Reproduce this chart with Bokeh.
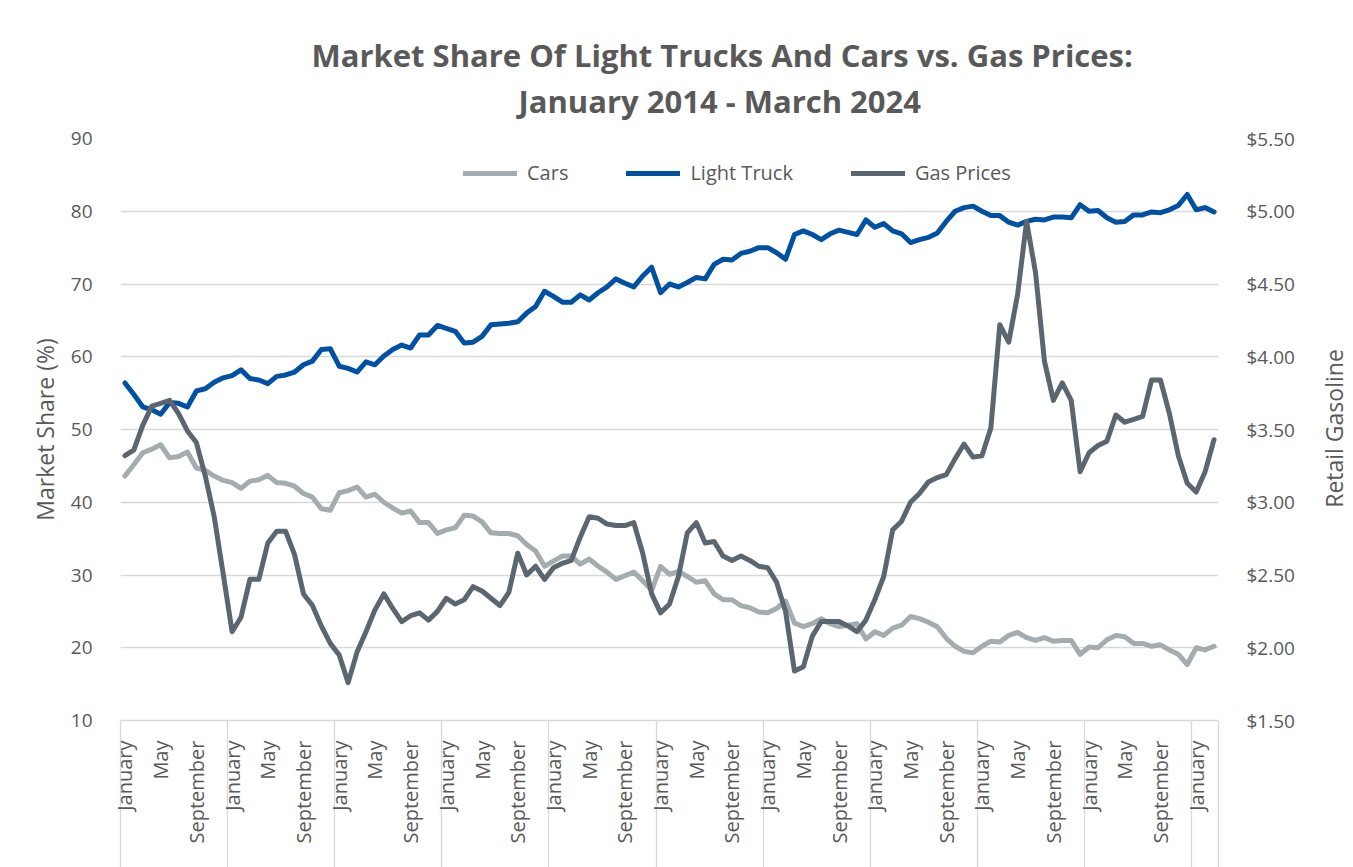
import math
from bokeh.plotting import figure
from bokeh.layouts import row
from bokeh.models import (Range1d, LinearAxis, FixedTicker, NumeralTickFormatter,
                          Legend, LegendItem, Title, Label)
from bokeh.embed import file_html
from bokeh.resources import INLINE

# ---------------- data ----------------
YEARS = list(range(2014, 2025))
MONTHS = ["January", "February", "March", "April", "May", "June", "July",
          "August", "September", "October", "November", "December"]
LABELED_MONTHS = ["January", "May", "September"]

truck = [56.4, 54.8, 53.1, 52.7, 52.1, 53.7, 53.6, 53.1, 55.3, 55.6,
         56.5, 57.1, 57.4, 58.2, 57.0, 56.8, 56.3, 57.3, 57.5, 57.9,
         58.9, 59.4, 61.0, 61.1, 58.7, 58.4, 57.9, 59.3, 58.9, 60.1,
         61.0, 61.6, 61.2, 63.0, 63.0, 64.3, 63.9, 63.5, 61.9, 62.0,
         62.8, 64.4, 64.5, 64.6, 64.8, 66.0, 66.9, 69.0, 68.3, 67.5,
         67.5, 68.5, 67.8, 68.8, 69.6, 70.7, 70.1, 69.6, 71.1, 72.3,
         68.8, 70.0, 69.6, 70.2, 70.9, 70.7, 72.7, 73.4, 73.3, 74.2,
         74.5, 75.0, 75.0, 74.3, 73.4, 76.8, 77.3, 76.8, 76.1, 76.9,
         77.4, 77.1, 76.8, 78.8, 77.8, 78.3, 77.3, 76.9, 75.7, 76.1,
         76.4, 77.0, 78.6, 80.0, 80.5, 80.7, 80.0, 79.4, 79.4, 78.5,
         78.1, 78.6, 78.9, 78.8, 79.2, 79.2, 79.1, 80.9, 80.0, 80.1,
         79.1, 78.5, 78.6, 79.5, 79.5, 79.9, 79.8, 80.2, 80.8, 82.3,
         80.2, 80.5, 79.9]

cars = [43.6, 45.2, 46.8, 47.3, 47.9, 46.1, 46.3, 46.9, 44.7, 44.4,
        43.6, 43.0, 42.7, 41.9, 42.9, 43.1, 43.7, 42.7, 42.6, 42.2,
        41.2, 40.7, 39.1, 38.9, 41.3, 41.6, 42.1, 40.7, 41.1, 40.0,
        39.2, 38.5, 38.8, 37.2, 37.2, 35.7, 36.2, 36.5, 38.2, 38.1,
        37.3, 35.8, 35.7, 35.7, 35.4, 34.2, 33.3, 31.2, 31.9, 32.6,
        32.6, 31.5, 32.2, 31.2, 30.4, 29.4, 29.9, 30.4, 29.2, 27.9,
        31.2, 30.1, 30.5, 29.8, 29.0, 29.2, 27.4, 26.6, 26.6, 25.8,
        25.5, 24.9, 24.8, 25.4, 26.4, 23.4, 22.9, 23.3, 24.0, 23.3,
        22.9, 23.1, 23.3, 21.2, 22.2, 21.7, 22.7, 23.1, 24.3, 24.0,
        23.5, 22.9, 21.3, 20.2, 19.5, 19.3, 20.2, 20.9, 20.8, 21.7,
        22.1, 21.4, 21.0, 21.4, 20.9, 21.0, 21.0, 19.1, 20.1, 20.0,
        21.1, 21.7, 21.5, 20.6, 20.6, 20.2, 20.4, 19.7, 19.1, 17.7,
        20.0, 19.7, 20.2]

gas = [3.32, 3.36, 3.53, 3.66, 3.68, 3.70, 3.61, 3.49, 3.41, 3.18,
       2.90, 2.51, 2.11, 2.21, 2.47, 2.47, 2.72, 2.80, 2.80, 2.64,
       2.37, 2.29, 2.15, 2.03, 1.95, 1.76, 1.97, 2.11, 2.26, 2.37,
       2.27, 2.18, 2.22, 2.24, 2.19, 2.25, 2.34, 2.30, 2.33, 2.42,
       2.39, 2.34, 2.29, 2.38, 2.65, 2.50, 2.56, 2.47, 2.55, 2.58,
       2.60, 2.76, 2.90, 2.89, 2.85, 2.84, 2.84, 2.86, 2.65, 2.37,
       2.24, 2.30, 2.49, 2.79, 2.86, 2.72, 2.73, 2.63, 2.60, 2.63,
       2.60, 2.56, 2.55, 2.45, 2.25, 1.84, 1.87, 2.08, 2.18, 2.18,
       2.18, 2.15, 2.11, 2.19, 2.33, 2.49, 2.81, 2.87, 3.00, 3.06,
       3.14, 3.17, 3.19, 3.30, 3.40, 3.31, 3.32, 3.51, 4.22, 4.10,
       4.43, 4.93, 4.58, 3.97, 3.70, 3.82, 3.70, 3.21, 3.34, 3.39,
       3.42, 3.60, 3.55, 3.57, 3.59, 3.84, 3.84, 3.61, 3.32, 3.13,
       3.07, 3.21, 3.43]

left_ticks = [10, 20, 30, 40, 50, 60, 70, 80, 90]
right_ticks = [1.5, 2.0, 2.5, 3.0, 3.5, 4.0, 4.5, 5.0, 5.5]

TITLE_1 = "Market Share Of Light Trucks And Cars vs. Gas Prices:"
TITLE_2 = "January 2014 - March 2024"
LEFT_TITLE = "Market Share (%)"
RIGHT_TITLE = "Retail Gasoline"

# month names for every point (Jan 2014 .. Mar 2024)
month_names = [m for y in YEARS for m in MONTHS][:len(truck)]
x = list(range(len(month_names)))
label_idx = [i for i, m in enumerate(month_names) if m in LABELED_MONTHS]
year_bounds = [i - 0.5 for i, m in enumerate(month_names) if m == "January"] + [len(x) - 0.5]

# ---------------- styling ----------------
FONT = "Open Sans"
TXT = "#595959"
GRID = "#d9d9d9"
C_CARS = "#A5ACAF"
C_TRUCK = "#0050A4"
C_GAS = "#5B6770"

p = figure(width=1300, height=867, output_backend="svg", toolbar_location=None,
           x_range=Range1d(-0.5, len(x) - 0.5), y_range=Range1d(10, 90),
           min_border_left=120, min_border_right=82,
           min_border_top=138, min_border_bottom=147)
p.extra_y_ranges = {"gas": Range1d(1.5, 5.5)}
p.outline_line_color = None
p.background_fill_color = "white"
p.border_fill_color = "white"
p.xgrid.visible = False
p.ygrid.grid_line_color = GRID
p.ygrid.grid_line_width = 1.3

# titles (second line closest to the plot, then first line above it)
p.add_layout(Title(text=TITLE_2, align="left", offset=398, standoff=31,
                   vertical_align="middle", text_font=FONT, text_font_size="31px",
                   text_font_style="bold", text_color=TXT), "above")
p.add_layout(Title(text=TITLE_1, align="left", offset=191, standoff=-27,
                   vertical_align="middle", text_font=FONT, text_font_size="31px",
                   text_font_style="bold", text_color=TXT), "above")

# bottom axis: month labels, long year-separator ticks drawn outward
xa = p.xaxis[0]
xa.ticker = FixedTicker(ticks=label_idx, minor_ticks=year_bounds)
xa.major_label_overrides = {i: month_names[i] for i in label_idx}
xa.major_label_orientation = math.pi / 2
xa.major_tick_in = 0
xa.major_tick_out = 0
xa.minor_tick_out = 0
xa.minor_tick_in = -160
xa.minor_tick_line_color = GRID
xa.minor_tick_line_width = 1.3
xa.axis_line_color = GRID
xa.axis_line_width = 1.3
xa.major_label_standoff = 20
xa.major_label_text_font = FONT
xa.major_label_text_font_size = "20px"
xa.major_label_text_color = TXT

# left axis
ya = p.yaxis[0]
ya.ticker = FixedTicker(ticks=left_ticks)
ya.axis_line_color = None
ya.major_tick_line_color = None
ya.minor_tick_line_color = None
ya.major_label_standoff = 22
ya.major_label_text_font = FONT
ya.major_label_text_font_size = "19px"
ya.major_label_text_color = TXT
ya.axis_label = LEFT_TITLE
ya.axis_label_text_font = FONT
ya.axis_label_text_font_size = "23px"
ya.axis_label_text_font_style = "normal"
ya.axis_label_text_color = TXT
ya.axis_label_standoff = 7

# right axis (tick labels)
ra = LinearAxis(y_range_name="gas", ticker=FixedTicker(ticks=right_ticks),
                formatter=NumeralTickFormatter(format="$0.00"))
ra.axis_line_color = None
ra.major_tick_line_color = None
ra.minor_tick_line_color = None
ra.major_label_standoff = 22
ra.major_label_text_font = FONT
ra.major_label_text_font_size = "19px"
ra.major_label_text_color = TXT
p.add_layout(ra, "right")

# lines
kw = dict(line_width=5, line_join="round", line_cap="round")
r_cars = p.line(x, cars, line_color=C_CARS, **kw)
r_truck = p.line(x, truck, line_color=C_TRUCK, **kw)
r_gas = p.line(x, gas, line_color=C_GAS, y_range_name="gas", **kw)

legend = Legend(items=[LegendItem(label="Cars", renderers=[r_cars]),
                       LegendItem(label="Light Truck", renderers=[r_truck]),
                       LegendItem(label="Gas Prices", renderers=[r_gas])],
                orientation="horizontal", location=(343, 534),
                border_line_color=None, background_fill_alpha=0,
                padding=0, margin=0, spacing=58, glyph_width=54, glyph_height=24,
                label_standoff=10, label_text_font=FONT, label_text_font_size="20px",
                label_text_color=TXT)
p.add_layout(legend)

# narrow strip on the right holding the secondary axis title (reads bottom-to-top);
# its frame is aligned with the main plot frame by the row layout
p2 = figure(width=53, height=867, output_backend="svg", toolbar_location=None,
            x_range=Range1d(0, 1), y_range=Range1d(0, 1),
            min_border_left=0, min_border_right=0, min_border_top=0, min_border_bottom=0)
p2.axis.visible = False
p2.grid.visible = False
p2.outline_line_color = None
p2.background_fill_color = "white"
p2.border_fill_color = "white"
p2.add_layout(Label(x=33, y=292, x_units="screen", y_units="screen", text=RIGHT_TITLE,
                    angle=math.pi / 2, text_align="center", text_baseline="middle",
                    text_font=FONT, text_font_size="23px", text_color=TXT))

layout = row(p, p2, spacing=0)
open("out.html", "w").write(file_html(layout, INLINE))
